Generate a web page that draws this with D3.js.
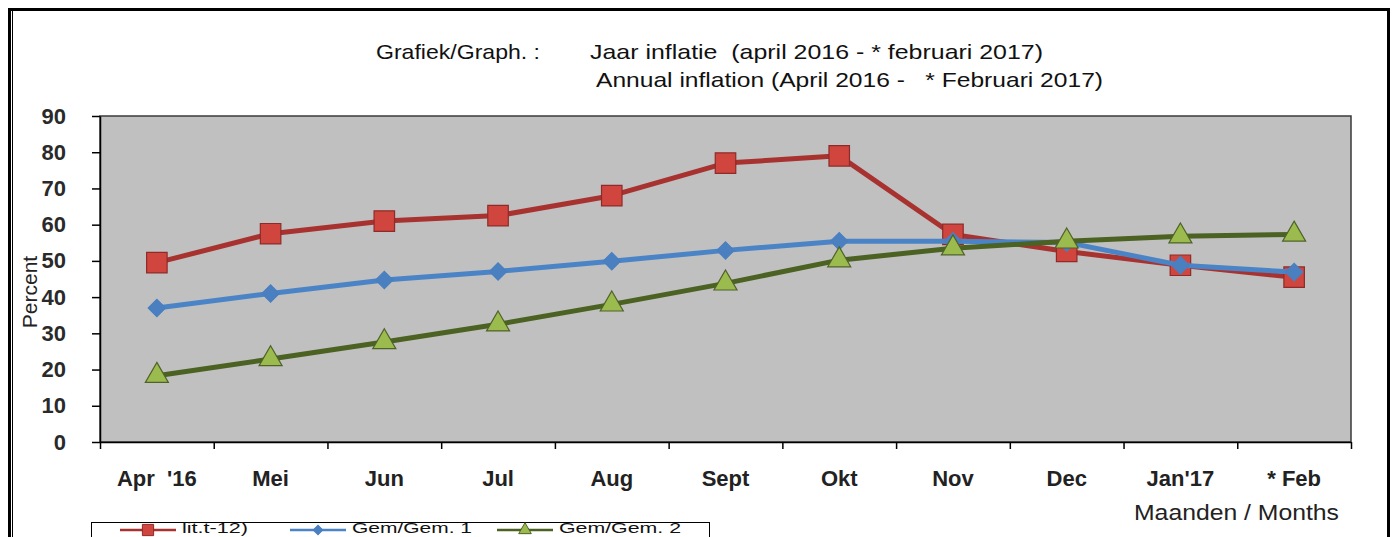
<!DOCTYPE html>
<html>
<head>
<meta charset="utf-8">
<script src="https://cdn.jsdelivr.net/npm/d3@7"></script>
<style>
  body { margin: 0; background: #fff; overflow: hidden; }
  svg { display: block; font-family: "Liberation Sans", Arial, sans-serif; }
</style>
</head>
<body>
<svg id="chart"></svg>
<script>
// data
var months = ["Apr  '16", "Mei", "Jun", "Jul", "Aug", "Sept", "Okt", "Nov", "Dec", "Jan'17", "* Feb"];
var yoy  = [49.5, 57.5, 61, 62.5, 68, 77, 79, 57.3, 52.6, 48.8, 45.5];   // lit.t-12)
var gem1 = [37, 41, 44.7, 47.1, 49.9, 52.9, 55.4, 55.4, 55.1, 48.8, 46.9];
var gem2 = [18.3, 22.9, 27.6, 32.5, 38, 43.8, 50.2, 53.5, 55.4, 56.8, 57.3];
var yTicks = [0, 10, 20, 30, 40, 50, 60, 70, 80, 90];
var seriesNames = ["lit.t-12)", "Gem/Gem. 1", "Gem/Gem. 2"];

(function() {
    var W = 1392, H = 537;
    var svg = d3.select("#chart").attr("width", W).attr("height", H);

    // outer frame
    svg.append("rect").attr("x", 9.5).attr("y", 9.5).attr("width", 1379).attr("height", 600)
        .attr("fill", "#fff").attr("stroke", "#000").attr("stroke-width", 3);
    svg.append("line").attr("x1", 12.5).attr("x2", 12.5).attr("y1", 11).attr("y2", H)
        .attr("stroke", "#000").attr("stroke-width", 1);

    var plot = { left: 100, top: 116, right: 1351, bottom: 442 };

    var x = d3.scaleBand().domain(months).range([plot.left, plot.right]).padding(0);
    var xEdge = d3.scaleLinear().domain([0, months.length]).range([plot.left, plot.right]);
    var y = d3.scaleLinear().domain([0, 90]).range([plot.bottom, plot.top]);
    var cx = function(i) { return x(months[i]) + x.bandwidth() / 2; };

    // plot area
    svg.append("rect")
        .attr("x", plot.left).attr("y", plot.top)
        .attr("width", plot.right - plot.left).attr("height", plot.bottom - plot.top)
        .attr("fill", "#c0c0c0").attr("stroke", "#3a3a3a").attr("stroke-width", 1.5);

    // y axis
    var yAxis = svg.append("g")
        .attr("transform", "translate(" + plot.left + ",0)")
        .call(d3.axisLeft(y).tickValues(yTicks).tickSize(8).tickPadding(26).tickSizeOuter(0));
    yAxis.select(".domain").attr("stroke", "#000").attr("stroke-width", 1.5);
    yAxis.selectAll(".tick line").attr("stroke", "#000").attr("stroke-width", 1.5);
    yAxis.selectAll("text").attr("font-size", 22).attr("font-weight", "bold")
        .attr("fill", "#2a2a2a").attr("font-family", "'Liberation Sans', Arial, sans-serif");

    // x axis: tick marks at category edges
    var xAxis = svg.append("g")
        .attr("transform", "translate(0," + plot.bottom + ")")
        .call(d3.axisBottom(xEdge).tickValues(d3.range(0, months.length + 1)).tickFormat("").tickSize(7).tickSizeOuter(0));
    xAxis.select(".domain").attr("stroke", "#000").attr("stroke-width", 1.5);
    xAxis.selectAll(".tick line").attr("stroke", "#000").attr("stroke-width", 1.5);

    // month labels
    var xLab = svg.append("g")
        .attr("transform", "translate(0," + plot.bottom + ")")
        .call(d3.axisBottom(x).tickSize(0).tickPadding(28));
    xLab.select(".domain").remove();
    xLab.selectAll("text").attr("font-size", 22).attr("font-weight", "bold")
        .attr("fill", "#222").attr("font-family", "'Liberation Sans', Arial, sans-serif")
        .style("white-space", "pre");

    // axis titles
    svg.append("text")
        .attr("transform", "translate(37,292) rotate(-90)")
        .attr("text-anchor", "middle").attr("font-size", 21).attr("fill", "#222")
        .text("Percent");
    svg.append("text")
        .attr("x", 1134).attr("y", 520)
        .attr("font-size", 22).attr("fill", "#222")
        .attr("textLength", 205).attr("lengthAdjust", "spacingAndGlyphs")
        .text("Maanden / Months");

    // title (glyphs stretched a little wider, as in the picture)
    var titles = [
        { t: "Grafiek/Graph. :", x: 376, y: 59, w: 164 },
        { t: "Jaar inflatie  (april 2016 - * februari 2017)", x: 590, y: 59, w: 453 },
        { t: "Annual inflation (April 2016 -   * Februari 2017)", x: 596, y: 87, w: 507 }
    ];
    titles.forEach(function(d) {
        svg.append("text").attr("x", d.x).attr("y", d.y)
            .attr("font-size", 21).attr("fill", "#111")
            .attr("textLength", d.w).attr("lengthAdjust", "spacingAndGlyphs")
            .style("white-space", "pre").text(d.t);
    });

    var series = [
        { name: seriesNames[0], values: yoy,  line: "#a8322f", fill: "#d0463f", stroke: "#8e2b28",
          symbol: d3.symbolSquare, size: 420, rot: 0 },
        { name: seriesNames[1], values: gem1, line: "#4a84c6", fill: "#4a7fc0", stroke: "#4a7fc0",
          symbol: d3.symbolSquare, size: 150, rot: 45 },
        { name: seriesNames[2], values: gem2, line: "#4b6223", fill: "#9bbb4f", stroke: "#4f6228",
          symbol: d3.symbolTriangle, size: 230, rot: 0 }
    ];

    var line = d3.line()
        .x(function(d, i) { return cx(i); })
        .y(function(d) { return y(d); });

    series.forEach(function(s) {
        var g = svg.append("g");
        g.append("path")
            .datum(s.values)
            .attr("d", line)
            .attr("fill", "none")
            .attr("stroke", s.line)
            .attr("stroke-width", 5)
            .attr("stroke-linejoin", "round");
        g.selectAll("path.mark")
            .data(s.values)
            .enter()
            .append("path")
            .attr("class", "mark")
            .attr("d", d3.symbol().type(s.symbol).size(s.size))
            .attr("transform", function(d, i) {
                return "translate(" + cx(i) + "," + y(d) + ") rotate(" + s.rot + ")";
            })
            .attr("fill", s.fill)
            .attr("stroke", s.stroke)
            .attr("stroke-width", 1.2);
    });

    // legend (sits at the very bottom edge of the picture)
    var legend = svg.append("g");
    legend.append("rect").attr("x", 91.5).attr("y", 522.5).attr("width", 618).attr("height", 40)
        .attr("fill", "#fff").attr("stroke", "#000").attr("stroke-width", 1);
    var legX = [120, 290, 497];
    series.forEach(function(s, i) {
        var lx = legX[i], ly = 530;
        legend.append("line").attr("x1", lx).attr("x2", lx + 56).attr("y1", ly).attr("y2", ly)
            .attr("stroke", s.line).attr("stroke-width", 2.5);
        legend.append("path")
            .attr("d", d3.symbol().type(s.symbol).size(s.size * 0.3))
            .attr("transform", "translate(" + (lx + 28) + "," + ly + ") rotate(" + s.rot + ")")
            .attr("fill", s.fill).attr("stroke", s.stroke).attr("stroke-width", 1);
        legend.append("text").attr("x", lx + 62).attr("y", 533)
            .attr("font-size", 14).attr("fill", "#111")
            .attr("textLength", [66, 120, 122][i]).attr("lengthAdjust", "spacingAndGlyphs")
            .text(s.name);
    });
})();
</script>
</body>
</html>
